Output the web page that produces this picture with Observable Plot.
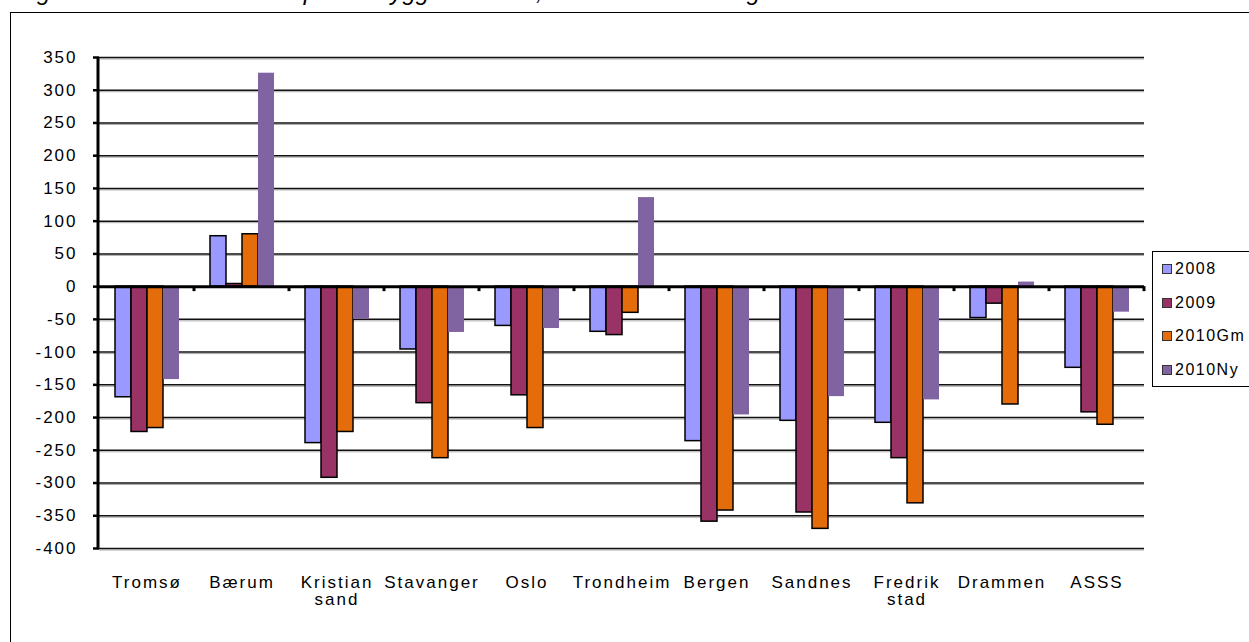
<!DOCTYPE html>
<html>
<head>
<meta charset="utf-8">
<script src="https://cdn.jsdelivr.net/npm/d3@7"></script>
<script src="https://cdn.jsdelivr.net/npm/@observablehq/plot@0.6"></script>
<style>
  html, body { margin: 0; padding: 0; background: #fff; overflow: hidden; width: 1249px; height: 642px; }
  #wrap { position: relative; width: 1249px; height: 642px; overflow: hidden; font-family: Arial, "Liberation Sans", sans-serif; }
  #frame { position: absolute; left: 10px; top: 12px; width: 1400px; height: 800px; border: 1.5px solid #000; box-sizing: border-box; }
  #title { position: absolute; left: 17px; top: -20px; font-size: 24px; line-height: 24px; font-style: italic; white-space: nowrap; color: #000; }
  #chart { position: absolute; left: 0; top: 0; }
  #chart svg text { letter-spacing: 2px; }
  #legend { position: absolute; left: 1152px; top: 251px; width: 200px; height: 136px; border: 1.5px solid #000; box-sizing: border-box; background: #fff; }
  .item { position: absolute; left: 0; height: 20px; font-size: 16px; line-height: 20px; letter-spacing: 1.5px; white-space: nowrap; }
  .sw { position: absolute; left: 9px; top: 5px; width: 10px; height: 10px; box-sizing: border-box; border: 1px solid #333; }
  .lab { position: absolute; left: 22px; top: 0; }
</style>
</head>
<body>
<div id="wrap">
  <div id="frame"></div>
  <div id="title">Figur 3.2 Avvik fra normen per innbygger i kroner, 2008-2010. Endring</div>
  <div id="chart"></div>
  <div id="legend"></div>
</div>
<script>
// Categories and series
const cities = ["Tromsø", "Bærum", "Kristian\nsand", "Stavanger", "Oslo", "Trondheim", "Bergen", "Sandnes", "Fredrik\nstad", "Drammen", "ASSS"];
const series = ["2008", "2009", "2010Gm", "2010Ny"];
const colors = ["#9999FF", "#993366", "#E46C0A", "#8064A2"];

// Values per series, in city order
const v2008   = [-169,  77, -239,  -96,  -60, -69, -236, -205, -208, -48, -124];
const v2009   = [-222,   4, -292, -178, -166, -74, -359, -345, -262, -26, -192];
const v2010Gm = [-216,  80, -222, -262, -216, -40, -342, -370, -331, -180, -211];
const v2010Ny = [-142, 326,  -50,  -70,  -64, 136, -196, -168, -173,   7,  -39];

// Y-axis ticks
const yTicks = [350, 300, 250, 200, 150, 100, 50, 0, -50, -100, -150, -200, -250, -300, -350, -400];

const seriesValues = [v2008, v2009, v2010Gm, v2010Ny];
const data = cities.flatMap((c, i) => series.map((s, j) => ({city: c, series: s, value: seriesValues[j][i]})));
const outlined = data.filter(d => d.series !== "2010Ny");
const plain = data.filter(d => d.series === "2010Ny");
const grid = yTicks.filter(t => t !== 0);

const plot = Plot.plot({
  width: 1249,
  height: 642,
  marginLeft: 97,
  marginRight: 104,
  marginTop: 57,
  marginBottom: 94,
  style: {fontFamily: "Arial, 'Liberation Sans', sans-serif", fontSize: "17px", background: "transparent", color: "#000", overflow: "visible"},
  fx: {domain: cities, padding: 0, label: null},
  x: {domain: series, paddingInner: 0, paddingOuter: 0.8, axis: null},
  y: {domain: [-400, 350], label: null},
  color: {domain: series, range: colors},
  marks: [
    Plot.ruleY(grid, {stroke: "#aaa", strokeWidth: 1, dy: 1.5}),
    Plot.ruleY(grid, {stroke: "#111", strokeWidth: 1.5}),
    Plot.barY(outlined, {fx: "city", x: "series", y: "value", fill: "series", stroke: "#000", strokeWidth: 1.5}),
    Plot.barY(plain, {fx: "city", x: "series", y: "value", fill: "series"}),
    Plot.ruleY([0], {stroke: "#000", strokeWidth: 3}),
    Plot.axisY({ticks: yTicks, tickSize: 6, tickPadding: 16, tickFormat: d => String(d), strokeWidth: 2.5, fontSize: 17}),
    Plot.axisFx({anchor: "bottom", tickSize: 0, tickPadding: 27, label: null, fontSize: 17})
  ]
});

// Axis line and category separators, placed through the plot's own scales
const fxs = plot.scale("fx");
const ys = plot.scale("y");
const svg = d3.select(plot);
const deco = svg.append("g");
const left = fxs.apply(cities[0]);
deco.append("line")
  .attr("x1", left - 1).attr("x2", left - 1)
  .attr("y1", ys.apply(350)).attr("y2", ys.apply(-400))
  .attr("stroke", "#000").attr("stroke-width", 3);
cities.forEach(c => {
  const xb = fxs.apply(c) + fxs.bandwidth;
  deco.append("line")
    .attr("x1", xb).attr("x2", xb)
    .attr("y1", ys.apply(0)).attr("y2", ys.apply(0) + 5)
    .attr("stroke", "#000").attr("stroke-width", 3);
});

document.getElementById("chart").appendChild(plot);

// Legend
const legend = d3.select("#legend");
series.forEach((s, i) => {
  const item = legend.append("div").attr("class", "item").style("top", (7 + i * 33.7) + "px");
  item.append("div").attr("class", "sw").style("background", colors[i]);
  item.append("div").attr("class", "lab").text(s);
});
</script>
</body>
</html>
